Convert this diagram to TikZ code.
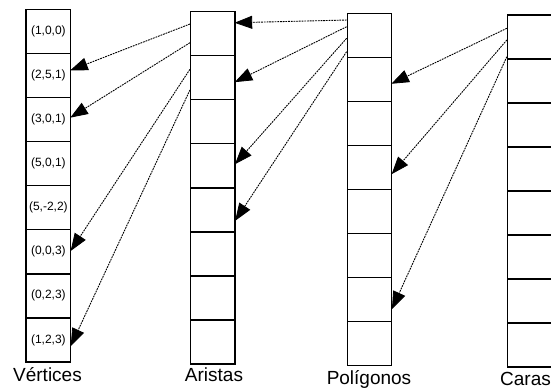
\documentclass[tikz,border=0pt]{standalone}
\usepackage{fontspec}
\setmainfont{Liberation Sans}
\usetikzlibrary{arrows.meta,calc}
\begin{document}
\begin{tikzpicture}[x=1pt,y=-1pt,
  cell/.style={draw=black,line width=1.3pt,minimum width=44.5pt,minimum height=44pt,inner sep=0pt,font=\fontsize{12}{12}\selectfont},
  title/.style={anchor=base,inner sep=0pt,font=\fontsize{19}{20}\selectfont},
  link/.style={draw=black,line width=0.9pt,dash pattern=on 1.8pt off 0.9pt},
  head/.style={draw=black,fill=black,solid,line width=0.8pt,line join=miter}]
\useasboundingbox (0,0) rectangle (551,388);
\clip (0,0) rectangle (551,388);
% Vertices column
\foreach \i/\t in {1/{(1,0,0)},2/{(2,5,1)},3/{(3,0,1)},4/{(5,0,1)},5/{(5,-2,2)},6/{(0,0,3)},7/{(0,2,3)},8/{(1,2,3)}}
  \node[cell] (v\i) at (48.35,{9.5+44.06*(\i-0.5)}) {\t};
% Aristas column
\foreach \i in {1,...,8}
  \node[cell] (a\i) at (212.85,{11.7+44.04*(\i-0.5)}) {};
% Poligonos column
\foreach \i in {1,...,8}
  \node[cell] (p\i) at (369.5,{13.3+44.05*(\i-0.5)}) {};
% Caras column
\foreach \i in {1,...,8}
  \node[cell] (c\i) at (529.75,{15+44*(\i-0.5)}) {};
% titles
\node[title] (tv) at (47.5,381.7) {Vértices};
\node[title] (ta) at (214,381.7) {Aristas};
\node[title] (tp) at (369,384.3) {Polígonos};
\node[title,anchor=base west] (tc) at (500,385) {Caras};
% connector end points
\coordinate (s1) at ([yshift=9.7pt]a1.west);   \coordinate (e1) at ([yshift=5.6pt]v2.east);
\coordinate (s2) at ([yshift=-9pt]a1.west);    \coordinate (e2) at ([yshift=2.6pt]v3.east);
\coordinate (s3) at ([yshift=8.5pt]a2.west);   \coordinate (e3) at ([yshift=1.8pt]v6.east);
\coordinate (s4) at ([yshift=-12.2pt]a2.west); \coordinate (e4) at ([yshift=-5pt]v8.east);
\coordinate (s5) at ([yshift=15.3pt]p1.west);  \coordinate (e5) at ([yshift=11pt]a1.east);
\coordinate (s6) at ([yshift=8.6pt]p1.west);   \coordinate (e6) at ([yshift=-3.9pt]a2.east);
\coordinate (s7) at ([yshift=-3pt]p1.west);    \coordinate (e7) at ([yshift=2.5pt]a4.east);
\coordinate (s8) at ([yshift=-16.4pt]p1.west); \coordinate (e8) at ([yshift=-10pt]a5.east);
\coordinate (s9) at ([yshift=8.7pt]c1.west);   \coordinate (e9) at ([yshift=-3.9pt]p2.east);
\coordinate (s10) at ([yshift=-3pt]c1.west);   \coordinate (e10) at ([yshift=-5.8pt]p4.east);
\coordinate (s11) at ([yshift=-19.7pt]c1.west);\coordinate (e11) at ([yshift=-8.4pt]p7.east);
\foreach \k in {1,...,11}{
  \draw[link] (s\k) -- ($(e\k)!12pt!(s\k)$);
  \filldraw[head] (e\k) -- ($(e\k)!16pt!(s\k)!6pt!90:(s\k)$) -- ($(e\k)!16pt!(s\k)!6pt!-90:(s\k)$) -- cycle;
}
\end{tikzpicture}
\end{document}
